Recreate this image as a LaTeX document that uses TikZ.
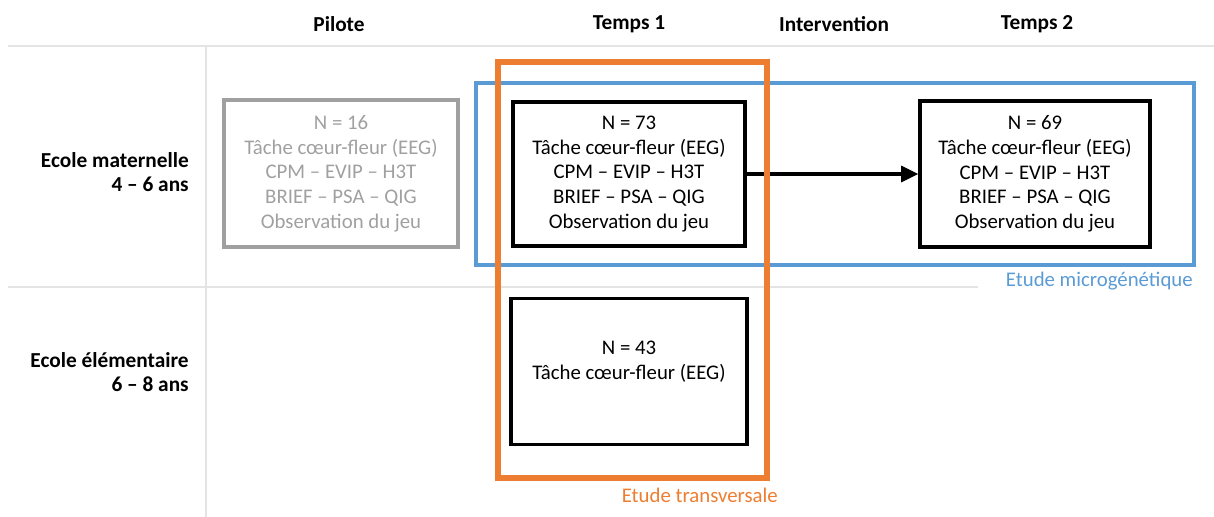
\documentclass[tikz,border=0pt]{standalone}
\usepackage{fontspec}
\setmainfont{Carlito}
\usetikzlibrary{arrows.meta}
\definecolor{blueE}{HTML}{5B9BD5}
\definecolor{orangeE}{HTML}{ED7D31}
\definecolor{grayline}{HTML}{E4E4E4}
\definecolor{grayT}{HTML}{A0A0A0}
\begin{document}
\begin{tikzpicture}[x=0.75pt,y=-0.75pt,
  txt/.style={font=\fontsize{15.6pt}{18.5pt}\selectfont,align=center,inner sep=0pt},
  head/.style={font=\fontsize{16pt}{18.5pt}\selectfont\bfseries,inner sep=0pt},
  rowlab/.style={font=\fontsize{16pt}{18.5pt}\selectfont\bfseries,align=right,inner sep=0pt,anchor=east},
  boxk/.style={draw=black,line width=2.4pt,inner sep=0pt},
  boxg/.style={draw=grayT,line width=3pt,inner sep=0pt}]
\useasboundingbox (0,0) rectangle (1214,517);
% grid lines
\draw[grayline,line width=1pt] (8,46) -- (1214,46);
\draw[grayline,line width=1pt] (206,46) -- (206,517);
\draw[grayline,line width=1pt] (8,287) -- (978,287);
% headers
\node[head] (hpil) at (339,24) {Pilote};
\node[head] (ht1) at (629,24) {Temps 1};
\node[head] (hint) at (834,24) {Intervention};
\node[head] (ht2) at (1037,24) {Temps 2};
% row labels
\node[rowlab] (rmat) at (189,172) {Ecole maternelle\\4 – 6 ans};
\node[rowlab] (relem) at (189,372) {Ecole élémentaire\\6 – 8 ans};
% boxes
\node[boxg,minimum width=175.5pt,minimum height=110pt] (pil) at (341,173.5) {};
\node[txt,text=grayT] (piltxt) at (341,173.5) {N = 16\\Tâche cœur-fleur (EEG)\\CPM – EVIP – H3T\\BRIEF – PSA – QIG\\Observation du jeu};
\node[boxk,minimum width=174pt,minimum height=108pt] (t1) at (629,174) {};
\node[txt] (t1txt) at (629,174) {N = 73\\Tâche cœur-fleur (EEG)\\CPM – EVIP – H3T\\BRIEF – PSA – QIG\\Observation du jeu};
\node[boxk,minimum width=172.5pt,minimum height=109.5pt] (t2) at (1035,174) {};
\node[txt] (t2txt) at (1035,174) {N = 69\\Tâche cœur-fleur (EEG)\\CPM – EVIP – H3T\\BRIEF – PSA – QIG\\Observation du jeu};
\node[boxk,minimum width=177pt,minimum height=110pt] (t1b) at (629,371.5) {};
\node[txt] (t1btxt) at (629,362) {N = 43\\Tâche cœur-fleur (EEG)};
% arrow
\draw[line width=2.4pt,-{Triangle[length=13pt,width=12pt]}] (t1.east) -- (t2.west);
% study frames
\draw[blueE,line width=3.6pt] (476,83) rectangle (1194,265);
\draw[orangeE,line width=3.8pt] (498,62) rectangle (767,478);
\node[txt,text=blueE,anchor=east] (lmicro) at (1193,281) {Etude microgénétique};
\node[txt,text=orangeE,anchor=east] (ltrans) at (778,495) {Etude transversale};
\end{tikzpicture}
\end{document}
